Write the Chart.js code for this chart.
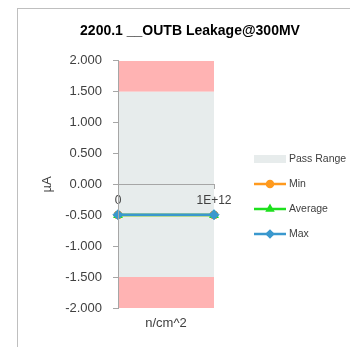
<!DOCTYPE html>
<html>
<head>
<meta charset="utf-8">
<script src="https://cdn.jsdelivr.net/npm/chart.js@4/dist/chart.umd.min.js"></script>
<style>
  html, body { margin: 0; padding: 0; background: #ffffff; }
  #wrap { width: 350px; height: 347px; }
</style>
</head>
<body>
<div id="wrap"><canvas id="c" width="350" height="347"></canvas></div>
<script>
// Fluence points on the x axis
const categories = ['0', '1E+12'];
// Leakage readings (µA)
const minValues = [-0.495, -0.495];
const avgValues = [-0.495, -0.495];
const maxValues = [-0.49, -0.49];
// Limit bands (µA)
const passUpper = [1.5, 1.5];
const passLowerLimit = -1.5;
const failUpper = [2.0, 2.0];
const failLower = [-1.5, -1.5];
const axisMin = -2.0;
const axisMax = 2.0;
const axisStep = 0.5;

const TEXT = '#404040';
const AXIS = '#A6A6A6';
const PASS = '#E7ECEC';
const FAIL = '#FFB3B3';
const FONT = "'Liberation Sans', Arial, sans-serif";

const band = (label, data, fillTo, color, inLegend, order) => ({
  label, data, fill: { value: fillTo }, backgroundColor: color,
  borderWidth: 0, pointRadius: 0, pointHoverRadius: 0, order,
  showInLegend: inLegend, legendKind: 'box'
});

const series = (label, data, color, style, radius, order) => ({
  label, data, borderColor: color, backgroundColor: color,
  borderWidth: 2.5, pointStyle: style, pointRadius: radius,
  pointBorderWidth: 1, pointBorderColor: color, pointBackgroundColor: color,
  fill: false, clip: false, order, showInLegend: true, legendKind: 'line'
});

// Outer frame around the chart
const framePlugin = {
  id: 'frame',
  beforeDraw(chart) {
    const ctx = chart.ctx;
    ctx.save();
    ctx.strokeStyle = '#BFBFBF';
    ctx.lineWidth = 1;
    ctx.strokeRect(17.5, 8.5, 400, 400);
    ctx.restore();
  }
};

// Legend drawn to the right of the plot
const sideLegend = {
  id: 'sideLegend',
  afterDraw(chart) {
    const ctx = chart.ctx;
    const items = chart.data.datasets.filter(d => d.showInLegend);
    const x0 = 254, x1 = 286, textX = 289;
    let y = 159;
    ctx.save();
    ctx.font = '10.5px ' + FONT;
    ctx.textBaseline = 'middle';
    ctx.textAlign = 'left';
    items.forEach(d => {
      if (d.legendKind === 'box') {
        ctx.fillStyle = d.backgroundColor;
        ctx.fillRect(x0, y - 4, x1 - x0, 8);
      } else {
        ctx.strokeStyle = d.borderColor;
        ctx.lineWidth = 2.5;
        ctx.beginPath();
        ctx.moveTo(x0, y);
        ctx.lineTo(x1, y);
        ctx.stroke();
        ctx.fillStyle = d.borderColor;
        Chart.helpers.drawPoint(ctx, {
          pointStyle: d.pointStyle, radius: 3, rotation: 0, borderWidth: 1
        }, (x0 + x1) / 2, y);
        ctx.fill();
      }
      ctx.fillStyle = TEXT;
      ctx.fillText(d.label, textX, y);
      y += 25;
    });
    ctx.restore();
  }
};

new Chart(document.getElementById('c'), {
  type: 'line',
  data: {
    labels: categories,
    datasets: [
      band('Pass Range', passUpper, passLowerLimit, PASS, true, 5),
      band('Upper Fail', failUpper, passUpper[0], FAIL, false, 6),
      band('Lower Fail', failLower, axisMin, FAIL, false, 7),
      series('Min', minValues, '#FF9A1E', 'circle', 4, 2),
      series('Average', avgValues, '#1EE01E', 'triangle', 5, 1),
      series('Max', maxValues, '#3A98CE', 'rectRot', 5, 0)
    ]
  },
  options: {
    responsive: false,
    devicePixelRatio: 1,
    animation: false,
    events: [],
    layout: { padding: { left: 30, right: 0, top: 10, bottom: 12 } },
    plugins: {
      legend: { display: false },
      tooltip: { enabled: false },
      title: {
        display: true,
        text: '2200.1 __OUTB Leakage@300MV',
        color: '#000000',
        font: { family: FONT, size: 14, weight: 'bold', lineHeight: 1.2 },
        padding: { top: 13, bottom: 21 }
      }
    },
    scales: {
      x: {
        type: 'category',
        position: { y: 0 },
        offset: false,
        grid: { drawOnChartArea: false, drawTicks: true, tickLength: 4, color: AXIS, z: 1 },
        border: { display: true, color: AXIS, width: 1, z: 1 },
        ticks: { color: TEXT, font: { family: FONT, size: 12 }, padding: 5, maxRotation: 0, autoSkip: false, z: 1 }
      },
      x2: {
        type: 'category',
        position: 'bottom',
        grid: { display: false },
        border: { display: false },
        ticks: { display: false },
        title: {
          display: true, text: 'n/cm^2', color: TEXT,
          font: { family: FONT, size: 13 }, padding: { top: 4, bottom: 4 }
        },
        afterFit(s) { s.height = 27; }
      },
      y: {
        type: 'linear',
        position: 'left',
        min: axisMin,
        max: axisMax,
        grid: { drawOnChartArea: false, drawTicks: true, tickLength: 5, color: AXIS },
        border: { display: true, color: AXIS, width: 1, z: 1 },
        ticks: {
          stepSize: axisStep, color: TEXT, padding: 11,
          font: { family: FONT, size: 13 },
          callback: v => Number(v).toFixed(3)
        },
        title: {
          display: true, text: 'µA', color: TEXT,
          font: { family: FONT, size: 13 }, padding: { top: 10, bottom: 0 }
        },
        afterFit(s) { s.width = 88; }
      },
      y2: {
        type: 'linear',
        position: 'right',
        grid: { display: false },
        border: { display: false },
        ticks: { display: false },
        afterFit(s) { s.width = 136; }
      }
    }
  },
  plugins: [framePlugin, sideLegend]
});
</script>
</body>
</html>
